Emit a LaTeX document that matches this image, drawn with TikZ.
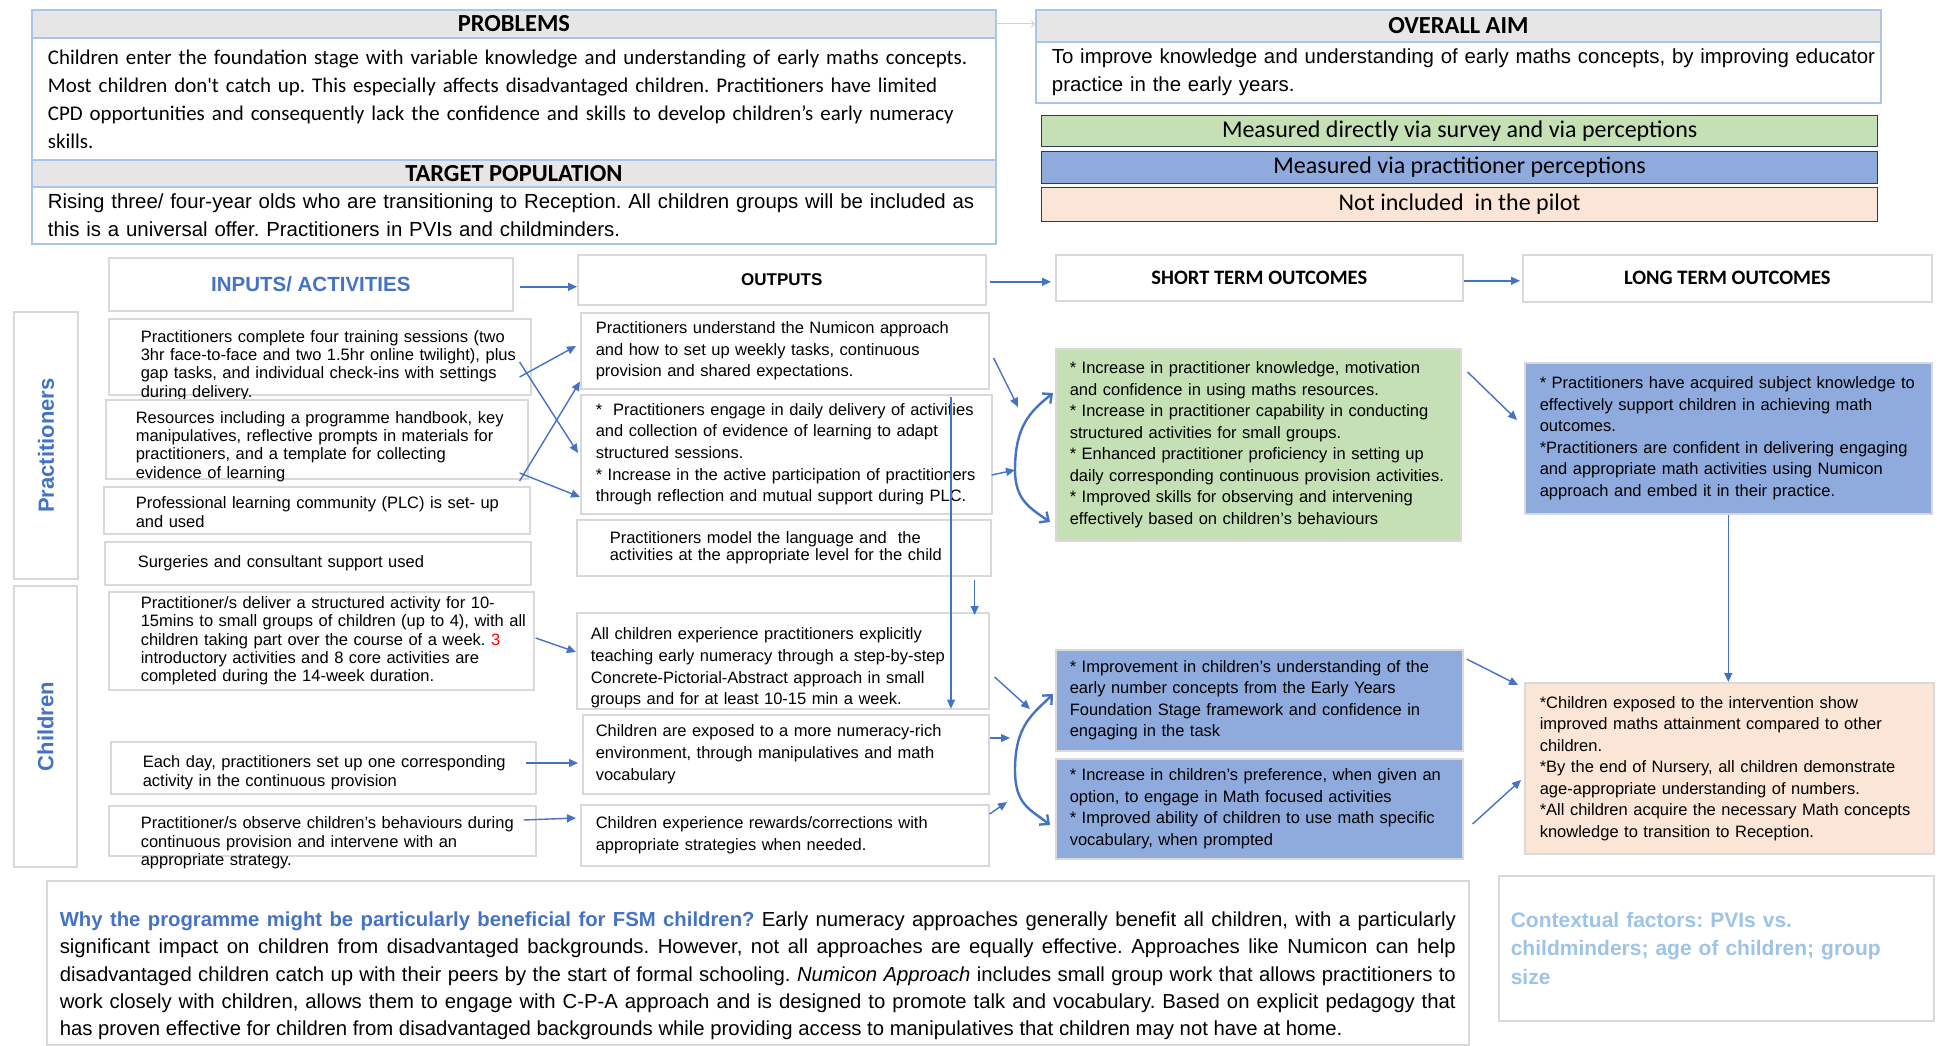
\documentclass[tikz,border=0pt]{standalone}
\usepackage{fontspec}
\setmainfont{Liberation Sans}
\newfontfamily\calfont{Carlito}
\usetikzlibrary{arrows.meta,calc}
\definecolor{arrowblue}{HTML}{4472C4}
\definecolor{boxgray}{HTML}{D9D9D9}
\definecolor{headgray}{HTML}{E7E6E6}
\definecolor{frameblue}{HTML}{A9C5EB}
\definecolor{stgreen}{HTML}{C5E0B4}
\definecolor{stblue}{HTML}{8FAADC}
\definecolor{ltpeach}{HTML}{FBE5D6}
\definecolor{legline}{HTML}{2F3B52}
\definecolor{ctxblue}{HTML}{9DC3E6}
\begin{document}
\frenchspacing
\begin{tikzpicture}[x=1pt,y=-1pt,
  arr/.style={-{Triangle[length=9pt,width=8pt]},arrowblue,line width=1.4pt},
  brc/.style={-{Straight Barb[length=7pt,width=13pt]},arrowblue,line width=2.4pt},
  wh/.style n args={3}{anchor=north west,minimum width=#1pt,minimum height=#2pt,
    text width=#1pt-8pt,execute at begin node={\leftskip=#3pt\relax}},
  bar/.style 2 args={anchor=north west,minimum width=#1pt,minimum height=#2pt,inner sep=0pt},
  actbox/.style={draw=boxgray,line width=1.6pt,align=left,inner xsep=4pt,inner ysep=1pt,
    font=\fontsize{16.5}{18.3}\selectfont},
  outbox/.style={actbox,font=\fontsize{16.5}{21.7}\selectfont},
  stbox/.style={actbox,font=\fontsize{16.5}{21.5}\selectfont},
  colhead/.style={draw=boxgray,line width=1.6pt},
  sidebox/.style={draw=boxgray,line width=1.6pt,rotate=90,inner sep=0pt,text=arrowblue,
    font=\fontsize{22}{22}\selectfont\bfseries},
  topbar/.style={fill=headgray,draw=frameblue,line width=1.8pt,
    font=\calfont\fontsize{24.5}{24.5}\selectfont\bfseries},
  topbody/.style={draw=frameblue,line width=1.8pt,align=left,inner xsep=4pt,inner ysep=0pt},
  legend/.style={draw=legline,line width=1.2pt,font=\calfont\fontsize{24}{24}\selectfont}]
\useasboundingbox (0,0) rectangle (1943,1046);

\node[topbar,bar={964}{28}] (probH) at (31,9) {PROBLEMS};
\node[topbody,wh={964}{122}{12},font=\calfont\fontsize{20.9}{28}\selectfont] (prob) at (31,37)
  {Children enter the foundation stage with variable knowledge and understanding of early maths concepts.\\
   Most children don\textquotesingle t catch up. This especially affects disadvantaged children. Practitioners have limited\\
   CPD opportunities and consequently lack the confidence and skills to develop children’s early numeracy\\
   skills.};
\node[topbar,bar={964}{27}] (popH) at (31,159) {TARGET POPULATION};
\node[topbody,wh={964}{57}{12},font=\fontsize{20.4}{28.5}\selectfont] (pop) at (31,186)
  {Rising three/ four-year olds who are transitioning to Reception. All children groups will be included as\\
   this is a universal offer. Practitioners in PVIs and childminders.};
\node[topbar,bar={845}{32}] (aimH) at (1035,9) {OVERALL AIM};
\node[topbody,wh={845}{61}{12},font=\fontsize{20.4}{28.5}\selectfont] (aim) at (1035,41)
  {To improve knowledge and understanding of early maths concepts, by improving educator\\
   practice in the early years.};
\draw[->,gray!35,line width=1pt] (probH.east) -- (probH.east -| aimH.west);

\node[legend,bar={836}{31},fill=stgreen] (legG) at (1041,115) {Measured directly via survey and via perceptions};
\node[legend,bar={836}{32},fill=stblue] (legB) at (1041,151) {Measured via practitioner perceptions};
\node[legend,bar={836}{34},fill=ltpeach] (legP) at (1041,187) {Not included\ \ in the pilot};

\node[colhead,bar={404}{53},text=arrowblue,font=\fontsize{20.5}{20.5}\selectfont\bfseries] (inH) at (108,257) {INPUTS/ ACTIVITIES};
\node[colhead,bar={408}{50},font=\fontsize{17}{17}\selectfont\bfseries] (outH) at (577,254) {OUTPUTS};
\node[colhead,bar={407}{46},font=\calfont\fontsize{20.5}{20.5}\selectfont\bfseries] (shH) at (1055,254) {SHORT TERM OUTCOMES};
\node[colhead,bar={409}{47},font=\calfont\fontsize{20.5}{20.5}\selectfont\bfseries] (lgH) at (1522,254) {LONG TERM OUTCOMES};

\node[sidebox,minimum width=267pt,minimum height=64pt] (prac) at (46,445.5) {Practitioners};
\node[sidebox,minimum width=281pt,minimum height=63pt] (chld) at (45.5,726.5) {Children};

\node[actbox,wh={422}{76}{28},text depth=41pt] (in1) at (108,318)
  {Practitioners complete four training sessions (two\\3hr face-to-face and two 1.5hr online twilight), plus\\gap tasks, and individual check-ins with settings\\during delivery.};
\node[actbox,wh={422}{79}{26},text depth=44pt] (in2) at (105,399)
  {Resources including a programme handbook, key\\manipulatives, reflective prompts in materials for\\practitioners, and a template for collecting\\evidence of learning};
\node[actbox,wh={426}{47}{28},text depth=15pt] (in3) at (103,486)
  {Professional learning community (PLC) is set- up\\and used};
\node[actbox,wh={426}{43}{29}] (in4) at (104,541)
  {Surgeries and consultant support used};
\node[actbox,wh={425}{98}{28}] (in5) at (108,591)
  {Practitioner/s deliver a structured activity for 10-\\15mins to small groups of children (up to 4), with all\\children taking part over the course of a week. \textcolor{red}{3}\\introductory activities and 8 core activities are\\completed during the 14-week duration.};
\node[actbox,wh={425}{52}{28},text depth=12pt] (in6) at (110,741)
  {Each day, practitioners set up one corresponding\\activity in the continuous provision};
\node[actbox,wh={427}{50}{28},text depth=16pt] (in7) at (108,805)
  {Practitioner/s observe children's behaviours during\\continuous provision and intervene with an\\appropriate strategy.};

\node[outbox,wh={408}{76}{11}] (out1) at (580,312)
  {Practitioners understand the Numicon approach\\and how to set up weekly tasks, continuous\\provision and shared expectations.};
\node[outbox,wh={411}{119}{11}] (out2) at (580,394)
  {*\ \ Practitioners engage in daily delivery of activities\\and collection of evidence of learning to adapt\\structured sessions.\\{}* Increase in the active participation of practitioners\\through reflection and mutual support during PLC.};
\node[actbox,wh={414}{56}{29},font=\fontsize{16.5}{17.4}\selectfont] (out3) at (576,519)
  {Practitioners model the language and\ \ the\\activities at the appropriate level for the child};
\node[outbox,wh={412}{96}{10},text depth=54pt] (out4) at (576,612)
  {All children experience practitioners explicitly\\teaching early numeracy through a step-by-step\\Concrete-Pictorial-Abstract approach in small\\groups and for at least 10-15 min a week.};
\node[outbox,wh={406}{79}{9}] (out5) at (582,714)
  {Children are exposed to a more numeracy-rich\\environment, through manipulatives and math\\vocabulary};
\node[outbox,wh={408}{61}{11}] (out6) at (580,804)
  {Children experience rewards/corrections with\\appropriate strategies when needed.};

\node[stbox,wh={405}{192}{10},fill=stgreen] (st1) at (1055,348)
  {* Increase in practitioner knowledge, motivation\\and confidence in using maths resources.\\{}* Increase in practitioner capability in conducting\\structured activities for small groups.\\{}* Enhanced practitioner proficiency in setting up\\daily corresponding continuous provision activities.\\{}* Improved skills for observing and intervening\\effectively based on children's behaviours};
\node[stbox,wh={407}{101}{10},fill=stblue] (st2) at (1055,649)
  {* Improvement in children's understanding of the\\early number concepts from the Early Years\\Foundation Stage framework and confidence in\\engaging in the task};
\node[stbox,wh={407}{100}{10},fill=stblue] (st3) at (1055,758)
  {* Increase in children's preference, when given an\\option, to engage in Math focused activities\\{}* Improved ability of children to use math specific\\vocabulary, when prompted};
\node[stbox,wh={407}{151}{11},fill=stblue] (lt1) at (1524,362)
  {* Practitioners have acquired subject knowledge to\\effectively support children in achieving math\\outcomes.\\{}*Practitioners are confident in delivering engaging\\and appropriate math activities using Numicon\\approach and embed it in their practice.};
\node[stbox,wh={409}{171}{11},fill=ltpeach] (lt2) at (1524,682)
  {*Children exposed to the intervention show\\improved maths attainment compared to other\\children.\\{}*By the end of Nursery, all children demonstrate\\age-appropriate understanding of numbers.\\{}*All children acquire the necessary Math concepts\\knowledge to transition to Reception.};

\node[draw=boxgray,line width=1.6pt,anchor=north west,minimum width=1422pt,minimum height=164pt,
  text width=1396pt,inner xsep=13pt,inner ysep=0pt,text height=41pt,align=justify,
  font=\fontsize{20.3}{27.3}\selectfont] (fsm) at (46,880)
  {\textcolor{arrowblue}{\bfseries Why the programme might be particularly beneficial for FSM children?} Early numeracy approaches generally benefit all children, with a particularly\linebreak
   significant impact on children from disadvantaged backgrounds. However, not all approaches are equally effective. Approaches like Numicon can help\linebreak
   disadvantaged children catch up with their peers by the start of formal schooling. \textit{Numicon Approach} includes small group work that allows practitioners to\linebreak
   work closely with children, allows them to engage with C-P-A approach and is designed to promote talk and vocabulary. Based on explicit pedagogy that\linebreak
   has proven effective for children from disadvantaged backgrounds while providing access to manipulatives that children may not have at home.};
\node[draw=boxgray,line width=1.6pt,wh={435}{145}{8},align=left,inner xsep=4pt,text=ctxblue,
  font=\fontsize{21}{28.5}\selectfont\bfseries] (ctx) at (1498,875)
  {Contextual factors: PVIs vs.\\childminders; age of children; group\\size};

\draw[arr] ($(inH.east)+(6,2.5)$) -- ($(outH.west)+(0,7)$);
\draw[arr] ($(outH.east)+(3,2)$) -- ($(shH.west)+(-4,4)$);
\draw[arr] ($(shH.east)+(0,3)$) -- ($(lgH.west)+(-2,2.5)$);

\draw[arr] ($(in1.north east)+(-12,44)$) -- ($(out2.north west)+(-2,59)$);
\draw[arr] ($(in1.north east)+(-12,59)$) -- ($(out1.north west)+(-4,34)$);
\draw[arr] ($(in2.north east)+(-9,82)$) -- ($(out1.south west)+(0,-8)$);
\draw[arr] ($(in2.north east)+(-9,74)$) -- ($(out2.north west)+(0,103)$);
\draw[arr] ($(in5.north east)+(1,47)$) -- ($(out4.north west)+(0,40)$);
\draw[arr] ($(in6.north east)+(-11,22)$) -- ($(out5.north west)+(-4,49)$);
\draw[arr] ($(in7.north east)+(-13,15)$) -- ($(out6.north west)+(-4,14)$);

\draw[arr,line width=1.1pt] ($(out2.north west)+(371,3)$) -- ($(out4.south west)+(375,-1)$);
\draw[arr,line width=1.1pt] ($(out3.south east)+(-17,3)$) -- ($(out4.north east)+(-15,3)$);

\coordinate (bm1) at ($(st1.north west)+(-40,122)$);
\coordinate (bm2) at ($(st2.north west)+(-40,121)$);
\draw[arr] ($(out1.north east)+(4,46)$) -- ($(st1.north west)+(-37,59)$);
\draw[arr] ($(out2.north east)+(-1,81)$) -- (bm1);
\draw[brc] (bm1) .. controls +(0,-45) and +(-22,18) .. ($(st1.north west)+(-2,45)$);
\draw[brc] (bm1) .. controls +(0,30) and +(-20,-14) .. ($(st1.north west)+(-5,174)$);
\draw[arr] ($(out4.north east)+(5,65)$) -- ($(st2.north west)+(-25,60)$);
\draw[arr] ($(out5.north east)+(0,24)$) -- ($(st2.north west)+(-45,89)$);
\draw[arr] ($(out6.north east)+(0,10)$) -- ($(st3.north west)+(-48,44)$);
\draw[brc] (bm2) .. controls +(0,-45) and +(-20,20) .. ($(st2.north west)+(-2,45)$);
\draw[brc] (bm2) .. controls +(0,35) and +(-20,-16) .. ($(st3.north west)+(-5,67)$);

\draw[arr] ($(st1.north east)+(6,24)$) -- ($(lt1.north west)+(-7,58)$);
\draw[arr] (lt1.south) -- (lt1.south |- lt2.north);
\draw[arr] ($(st2.north east)+(3,10)$) -- ($(lt2.north west)+(-6,3)$);
\draw[arr] ($(st3.north east)+(9,66)$) -- ($(lt2.north west)+(-3,98)$);
\end{tikzpicture}
\end{document}
